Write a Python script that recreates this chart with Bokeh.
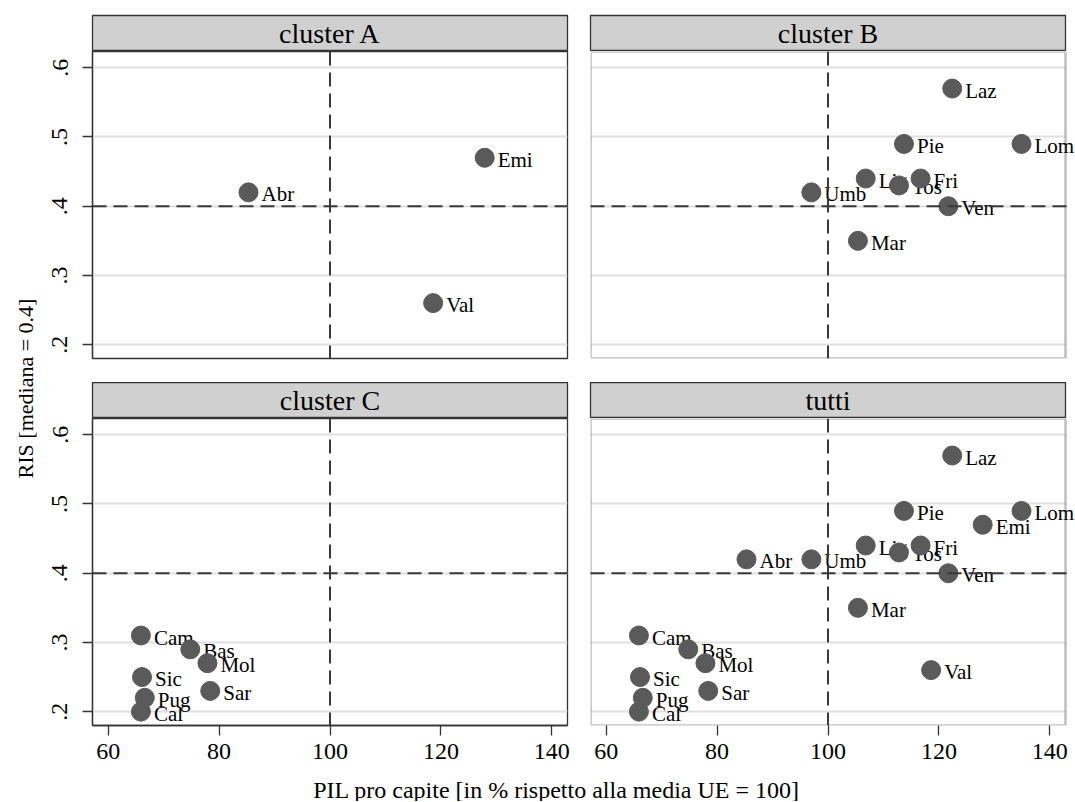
from bokeh.plotting import figure
from bokeh.models import Range1d, FixedTicker, Span, Label, BoxAnnotation
from bokeh.layouts import row, column
from bokeh.embed import file_html
from bokeh.resources import INLINE
from bokeh.core.properties import value
import math

# ---------------- data ----------------
regions = ["Abr", "Emi", "Val", "Laz", "Pie", "Lom", "Lig", "Fri", "Tos", "Umb",
           "Ven", "Mar", "Cam", "Bas", "Mol", "Sic", "Pug", "Sar", "Cal"]
pil = [85.3, 127.9, 118.6, 122.4, 113.7, 134.9, 106.8, 116.7, 112.8, 97.0,
       121.7, 105.4, 65.9, 74.8, 77.9, 66.1, 66.6, 78.4, 65.9]
ris = [0.42, 0.47, 0.26, 0.57, 0.49, 0.49, 0.44, 0.44, 0.43, 0.42,
       0.40, 0.35, 0.31, 0.29, 0.27, 0.25, 0.22, 0.23, 0.20]
cluster = ["A", "A", "A", "B", "B", "B", "B", "B", "B", "B",
           "B", "B", "C", "C", "C", "C", "C", "C", "C"]

panel_keys = ["A", "B", "C", "tutti"]
panel_titles = ["cluster A", "cluster B", "cluster C", "tutti"]
x_ticks = [60, 80, 100, 120, 140]
y_ticks = [0.2, 0.3, 0.4, 0.5, 0.6]
y_tick_labels = [".2", ".3", ".4", ".5", ".6"]
median_ris = 0.4
ue_ref = 100
x_title = "PIL pro capite [in % rispetto alla media UE = 100]"
y_title = "RIS [mediana = 0.4]"

FONT = "Liberation Serif"
FW, FH = 475, 307
HH = 36
DARK = "#333333"
REF = "#3a3a3a"
TOP = 15
GAP = 24
BOT = 46
X_LO, X_HI = 57.17, 142.83
Y_LO, Y_HI = 0.18, 0.6235
PX_PER_X = FW / (X_HI - X_LO)


def header(title, bl, br, bt):
    h = figure(frame_width=FW, frame_height=HH, x_range=Range1d(0, 1), y_range=Range1d(0, 1),
               toolbar_location=None, output_backend="svg",
               x_axis_location=None, y_axis_location=None,
               min_border_left=bl, min_border_right=br, min_border_top=bt, min_border_bottom=0,
               background_fill_color="#d0d0d0", border_fill_color="white",
               outline_line_color=DARK, outline_line_width=1.3)
    h.xgrid.visible = False
    h.ygrid.visible = False
    h.add_layout(Label(x=0.5, y=0.5, text=title, text_align="center", text_baseline="middle",
                       text_font=FONT, text_font_size="28px", text_color="black"))
    return h


def panel(key, show_x, show_y, bl, br, bb, extra=0):
    # extra: pixels of free room right of the plot box, so that labels are not cut
    x_end = X_HI + extra / PX_PER_X
    p = figure(frame_width=FW + extra, frame_height=FH,
               x_range=Range1d(X_LO, x_end), y_range=Range1d(Y_LO, Y_HI),
               toolbar_location=None, output_backend="svg",
               x_axis_location="below" if show_x else None,
               y_axis_location="left" if show_y else None,
               min_border_left=bl, min_border_right=br, min_border_top=0, min_border_bottom=bb,
               background_fill_color="white", border_fill_color="white",
               outline_line_color=DARK if extra == 0 else None, outline_line_width=1.3)
    p.xgrid.visible = False
    p.ygrid.ticker = FixedTicker(ticks=y_ticks)
    p.ygrid.grid_line_color = "#e0e0e0"
    p.ygrid.grid_line_width = 2

    if show_x:
        ax = p.xaxis[0]
        ax.ticker = FixedTicker(ticks=x_ticks)
        ax.major_label_standoff = 8
    if show_y:
        ay = p.yaxis[0]
        ay.ticker = FixedTicker(ticks=y_ticks)
        ay.major_label_overrides = {t: l for t, l in zip(y_ticks, y_tick_labels)}
        ay.major_label_orientation = "vertical"
        ay.major_label_standoff = 15
    for ax in p.axis:
        ax.major_tick_out = 10
        ax.major_tick_in = 0
        ax.minor_tick_out = 0
        ax.minor_tick_in = 0
        ax.axis_line_color = DARK if extra == 0 else None
        ax.axis_line_width = 1.3
        ax.major_tick_line_color = DARK
        ax.major_tick_line_width = 1.3
        ax.major_label_text_font = FONT
        ax.major_label_text_font_size = "24px"
        ax.major_label_text_color = "black"

    if extra:
        # hide grid in the spare strip and draw the plot box
        p.add_layout(BoxAnnotation(left=X_HI, fill_color="white", fill_alpha=1.0,
                                   line_color=None, level="underlay"))
        p.add_layout(BoxAnnotation(left=X_LO, right=X_HI, bottom=Y_LO, top=Y_HI,
                                   fill_color=None, fill_alpha=0, line_color=DARK,
                                   line_width=2.6, level="overlay"))

    idx = [i for i in range(len(regions)) if key == "tutti" or cluster[i] == key]
    idx.sort(key=lambda i: pil[i])
    for i in idx:
        p.scatter(x=[pil[i]], y=[ris[i]], size=19, fill_color="#5a5a5a", line_color="#5a5a5a")
        p.text(x=[pil[i]], y=[ris[i]], text=[regions[i]], x_offset=13, y_offset=2,
               text_baseline="middle", text_align="left",
               text_font=value(FONT), text_font_size="21px", text_color="black")

    p.add_layout(Span(location=ue_ref, dimension="height", line_color=REF,
                      line_width=2, line_dash="14 7"))
    if extra:
        p.segment(x0=[X_LO], y0=[median_ris], x1=[X_HI + 0.3], y1=[median_ris],
                  line_color=REF, line_width=2, line_dash="14 7", level="overlay")
    else:
        p.add_layout(Span(location=median_ris, dimension="width", line_color=REF,
                          line_width=2, line_dash="14 7"))
    return p


# left column: frame 92..567 ; right column: frame 590..1065 (+10px spare for labels)
YL_W = 40
L_BL, L_BR = 52, 11
R_BL, R_BR = 12, 10
R_EXTRA = 10

hA = header(panel_titles[0], L_BL, L_BR, TOP)
pA = panel(panel_keys[0], False, True, L_BL, L_BR, GAP)
hC = header(panel_titles[2], L_BL, L_BR, 0)
pC = panel(panel_keys[2], True, True, L_BL, L_BR, BOT)

hB = header(panel_titles[1], R_BL, R_BR, TOP)
pB = panel(panel_keys[1], False, False, R_BL, 0, GAP, extra=R_EXTRA)
hD = header(panel_titles[3], R_BL, R_BR, 0)
pD = panel(panel_keys[3], True, False, R_BL, 0, BOT, extra=R_EXTRA)

GRID_H = TOP + HH + FH + GAP + HH + FH + BOT

ylab = figure(width=YL_W, height=GRID_H, x_range=Range1d(0, YL_W), y_range=Range1d(0, GRID_H),
              toolbar_location=None, output_backend="svg",
              x_axis_location=None, y_axis_location=None, min_border=0,
              outline_line_color=None, background_fill_color="white", border_fill_color="white")
ylab.xgrid.visible = False
ylab.ygrid.visible = False
ylab.add_layout(Label(x=25, y=GRID_H - 388, text=y_title, angle=math.pi / 2,
                      text_align="center", text_baseline="middle",
                      text_font=FONT, text_font_size="22px", text_color="black"))

XL_H = 801 - GRID_H
TOTAL_W = YL_W + (L_BL + FW + L_BR) + (R_BL + FW + R_BR)
xlab = figure(width=TOTAL_W, height=XL_H, x_range=Range1d(0, TOTAL_W), y_range=Range1d(0, XL_H),
              toolbar_location=None, output_backend="svg",
              x_axis_location=None, y_axis_location=None, min_border=0,
              outline_line_color=None, background_fill_color="white", border_fill_color="white")
xlab.xgrid.visible = False
xlab.ygrid.visible = False
xlab.add_layout(Label(x=556, y=XL_H - 18, text=x_title, text_align="center", text_baseline="middle",
                      text_font=FONT, text_font_size="24px", text_color="black"))

layout = column(
    row(ylab, column(hA, pA, hC, pC), column(hB, pB, hD, pD)),
    xlab,
)

open("out.html", "w").write(file_html(layout, INLINE))
